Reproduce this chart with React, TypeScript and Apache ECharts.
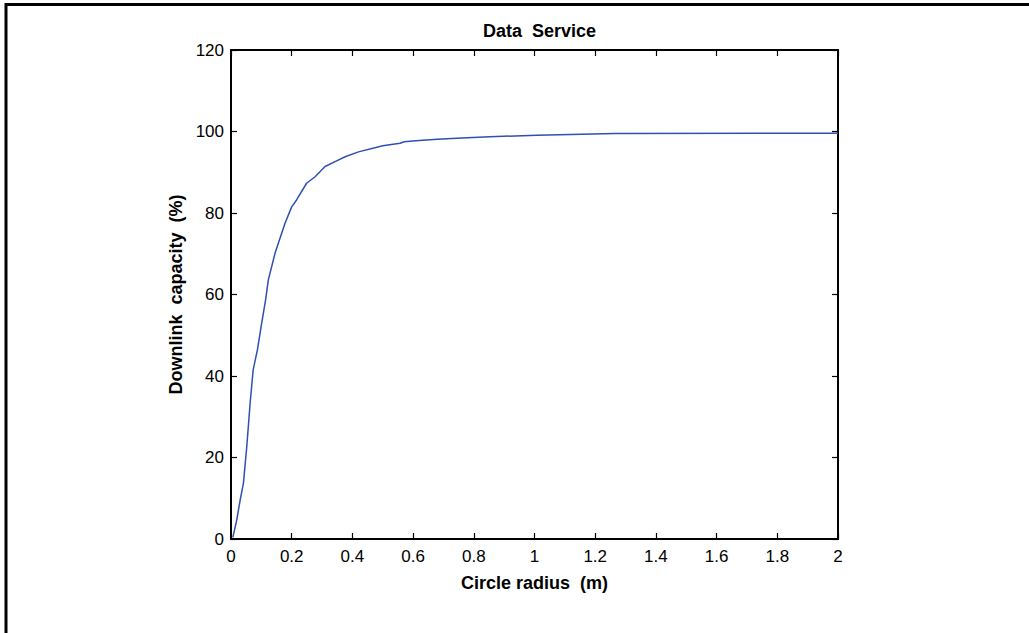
import React, { useEffect, useRef } from "react";
import * as echarts from "echarts";

const radius = [0.006, 0.008, 0.019, 0.03, 0.041, 0.052, 0.063, 0.073, 0.087, 0.101, 0.114, 0.123, 0.145, 0.156, 0.178, 0.2, 0.216, 0.249, 0.277, 0.31, 0.343, 0.376, 0.42, 0.474, 0.5, 0.557, 0.57, 0.62, 0.68, 0.76, 0.853, 1.008, 1.265, 2.0];
const capacity = [0.4, 1.0, 4.7, 9.5, 13.7, 22.7, 33.3, 41.5, 46.4, 52.9, 58.7, 63.6, 70.1, 72.6, 77.5, 81.5, 83.2, 87.3, 88.9, 91.4, 92.6, 93.8, 95.0, 96.0, 96.5, 97.1, 97.5, 97.8, 98.1, 98.4, 98.7, 99.1, 99.5, 99.6];

const titleText = "Data  Service";
const xName = "Circle radius  (m)";
const yName = "Downlink  capacity  (%)";

const FONT = "'Liberation Sans', Arial, Helvetica, sans-serif";

function line() {
  return { show: true, onZero: false, lineStyle: { color: "#000", width: 2 } };
}
function tick() {
  return { show: true, inside: true, length: 6, lineStyle: { color: "#000", width: 1.2 } };
}

export default function App() {
  const ref = useRef<HTMLDivElement>(null);
  useEffect(() => {
    if (!ref.current) return;
    const chart = echarts.init(ref.current, null, { renderer: "svg" });
    chart.setOption({
      animation: false,
      backgroundColor: "#fff",
      title: {
        text: titleText,
        left: 534.5,
        top: 17,
        textAlign: "center",
        textStyle: { fontFamily: FONT, fontSize: 18, fontWeight: "bold", color: "#000" },
      },
      grid: { left: 231, right: 191, top: 50, bottom: 94, outerBoundsMode: "none" },
      xAxis: [
        {
          type: "value",
          min: 0,
          max: 2,
          interval: 0.2,
          position: "bottom",
          name: xName,
          nameLocation: "middle",
          nameGap: 35,
          nameTextStyle: { fontFamily: FONT, fontSize: 18, fontWeight: "bold", color: "#000" },
          axisLine: line(),
          axisTick: tick(),
          splitLine: { show: false },
          axisLabel: { fontFamily: FONT, fontSize: 17, color: "#000", margin: 9 },
        },
        {
          type: "value",
          min: 0,
          max: 2,
          interval: 0.2,
          position: "top",
          axisLine: line(),
          axisTick: tick(),
          splitLine: { show: false },
          axisLabel: { show: false },
        },
      ],
      yAxis: [
        {
          type: "value",
          min: 0,
          max: 120,
          interval: 20,
          position: "left",
          name: yName,
          nameLocation: "middle",
          nameGap: 37,
          nameRotate: 90,
          nameTextStyle: { fontFamily: FONT, fontSize: 18, fontWeight: "bold", color: "#000" },
          axisLine: line(),
          axisTick: tick(),
          splitLine: { show: false },
          axisLabel: { fontFamily: FONT, fontSize: 17, color: "#000", margin: 7 },
        },
        {
          type: "value",
          min: 0,
          max: 120,
          interval: 20,
          position: "right",
          axisLine: line(),
          axisTick: tick(),
          splitLine: { show: false },
          axisLabel: { show: false },
        },
      ],
      graphic: [
        {
          type: "rect",
          shape: { x: 6, y: 4.5, width: 1200, height: 1000 },
          style: { fill: "none", stroke: "#000", lineWidth: 3 },
          silent: true,
        },
      ],
      series: [
        {
          type: "line",
          xAxisIndex: 0,
          yAxisIndex: 0,
          data: radius.map((r, i) => [r, capacity[i]]),
          showSymbol: false,
          symbol: "none",
          lineStyle: { color: "#2f4fb5", width: 1.5 },
        },
      ],
    });
    return () => chart.dispose();
  }, []);
  return <div ref={ref} style={{ position: "fixed", left: 0, top: 0, width: 1029, height: 633 }} />;
}
